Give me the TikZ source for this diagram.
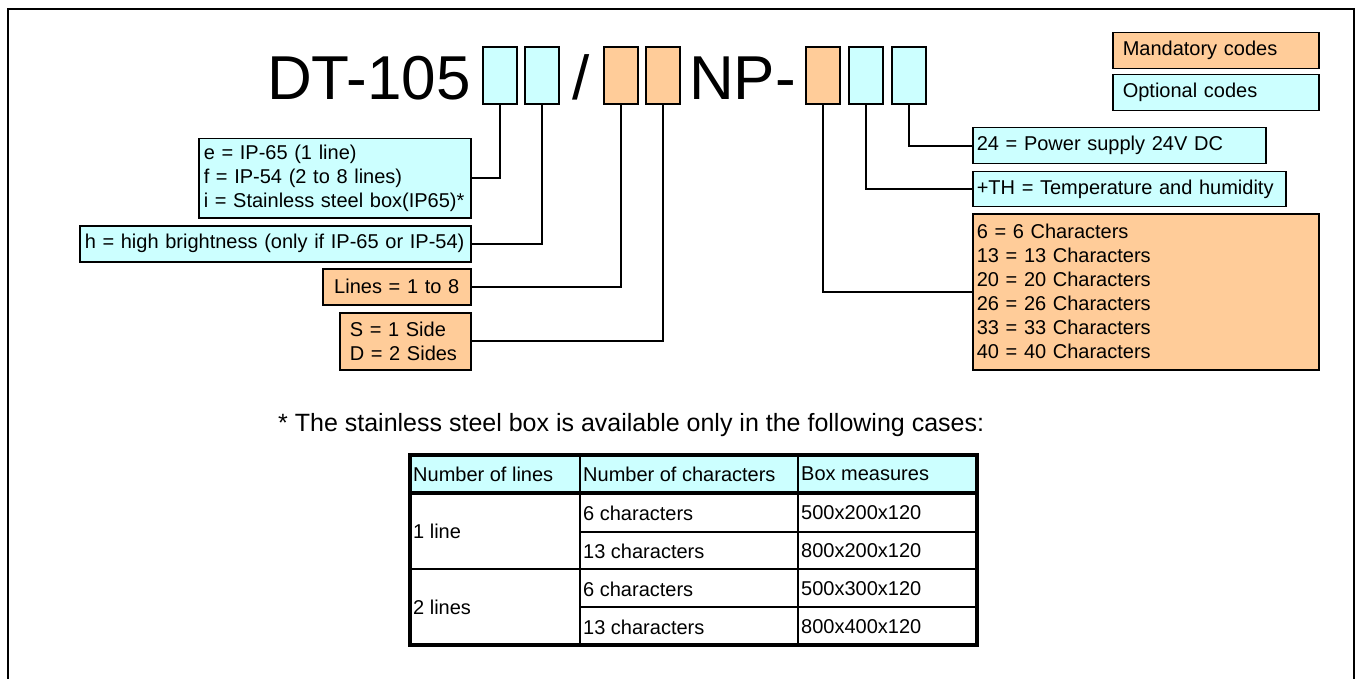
\documentclass[tikz,border=0pt]{standalone}
\usepackage{fontspec}
\setmainfont{Liberation Sans}
\definecolor{mandfill}{HTML}{FFCC99}
\definecolor{optfill}{HTML}{CCFFFF}
\begin{document}
\begin{tikzpicture}[x=1pt,y=-1pt,
	codebox/.style={draw, line width=1.5, minimum width=34, minimum height=57, inner sep=0},
	mand/.style={draw, line width=1.5, fill=mandfill, anchor=north west, align=left, inner xsep=5, inner ysep=0, font=\fontsize{20}{24}\selectfont},
	opt/.style={mand, fill=optfill},
	link/.style={line width=2},
	cell/.style={anchor=west, inner sep=0, font=\fontsize{20}{24}\selectfont}]
	\useasboundingbox (0,0) rectangle (1362,679);
	\draw[line width=2] (7.5,679) |- (1354,9) -- (1354,679);

	\node[anchor=base west, inner sep=0, font=\fontsize{62}{74}\selectfont] (model) at (267,100) {DT-105};
	\node[anchor=base, inner sep=0, font=\fontsize{62}{74}\selectfont] (slash) at (581,100) {/};
	\node[anchor=base west, inner sep=0, font=\fontsize{62}{74}\selectfont] (np) at (689,100) {NP-};

	\node[codebox, fill=optfill] (c1) at (500,75.5) {};
	\node[codebox, fill=optfill] (c2) at (542,75.5) {};
	\node[codebox, fill=mandfill] (c3) at (621,75.5) {};
	\node[codebox, fill=mandfill] (c4) at (663,75.5) {};
	\node[codebox, fill=mandfill] (c5) at (823,75.5) {};
	\node[codebox, fill=optfill] (c6) at (866,75.5) {};
	\node[codebox, fill=optfill] (c7) at (909,75.5) {};

	\node[mand, inner xsep=10, text width=186, minimum height=36] (legm) at (1112,32) {Mandatory codes};
	\node[opt, inner xsep=10, text width=186, minimum height=36] (lego) at (1112,74) {Optional codes};

	\node[opt, text width=262, minimum height=79] (prot) at (198,138) {e = IP-65 (1 line)\\f = IP-54 (2 to 8 lines)\\i = Stainless steel box(IP65)*};
	\node[opt, text width=381, minimum height=36] (bright) at (79,225) {h = high brightness (only if IP-65 or IP-54)};
	\node[mand, align=center, text width=138, minimum height=36] (lines) at (322,268) {Lines = 1 to 8};
	\node[mand, inner xsep=10, text width=111, minimum height=57] (sides) at (339,312) {S = 1 Side\\D = 2 Sides};

	\node[opt, inner xsep=4, text width=285, minimum height=36] (power) at (972,127) {24 = Power supply 24V DC};
	\node[opt, inner xsep=4, text width=305, minimum height=35] (temp) at (972,171) {+TH = Temperature and humidity};
	\node[mand, inner xsep=4, text width=338, minimum height=156] (chars) at (972,213) {6 = 6 Characters\\13 = 13 Characters\\20 = 20 Characters\\26 = 26 Characters\\33 = 33 Characters\\40 = 40 Characters};

	\draw[link] (c1.south) |- (prot.east);
	\draw[link] (c2.south) |- (bright.east);
	\draw[link] (c3.south) |- (lines.east);
	\draw[link] (c4.south) |- (sides.east);
	\draw[link] (c5.south) |- (chars.west);
	\draw[link] (c6.south) |- (temp.west);
	\draw[link] (c7.south) |- (power.west);

	\node[anchor=base west, inner sep=0, font=\fontsize{25}{30}\selectfont] (note) at (278,431) {* The stainless steel box is available only in the following cases:};

	\fill[optfill] (410,455) rectangle (977,493);
	\draw[line width=1.2] (580,532) -- (977,532);
	\draw[line width=1.2] (580,607) -- (977,607);
	\draw[line width=2.5] (410,569) -- (977,569);
	\draw[line width=1.8] (580,455) -- (580,645);
	\draw[line width=1.8] (798,455) -- (798,645);
	\draw[line width=3.5] (410,493) -- (977,493);
	\draw[line width=4] (410,455) rectangle (977,645);

	\node[cell] (h1) at (413,474) {Number of lines};
	\node[cell] (h2) at (583,474) {Number of characters};
	\node[cell] (h3) at (801,474) {Box measures};
	\node[cell] (l1) at (413,531) {1 line};
	\node[cell] (n11) at (583,513) {6 characters};
	\node[cell] (b11) at (801,513) {500x200x120};
	\node[cell] (n12) at (583,551) {13 characters};
	\node[cell] (b12) at (801,551) {800x200x120};
	\node[cell] (l2) at (413,607) {2 lines};
	\node[cell] (n21) at (583,589) {6 characters};
	\node[cell] (b21) at (801,589) {500x300x120};
	\node[cell] (n22) at (583,627) {13 characters};
	\node[cell] (b22) at (801,627) {800x400x120};
\end{tikzpicture}
\end{document}
